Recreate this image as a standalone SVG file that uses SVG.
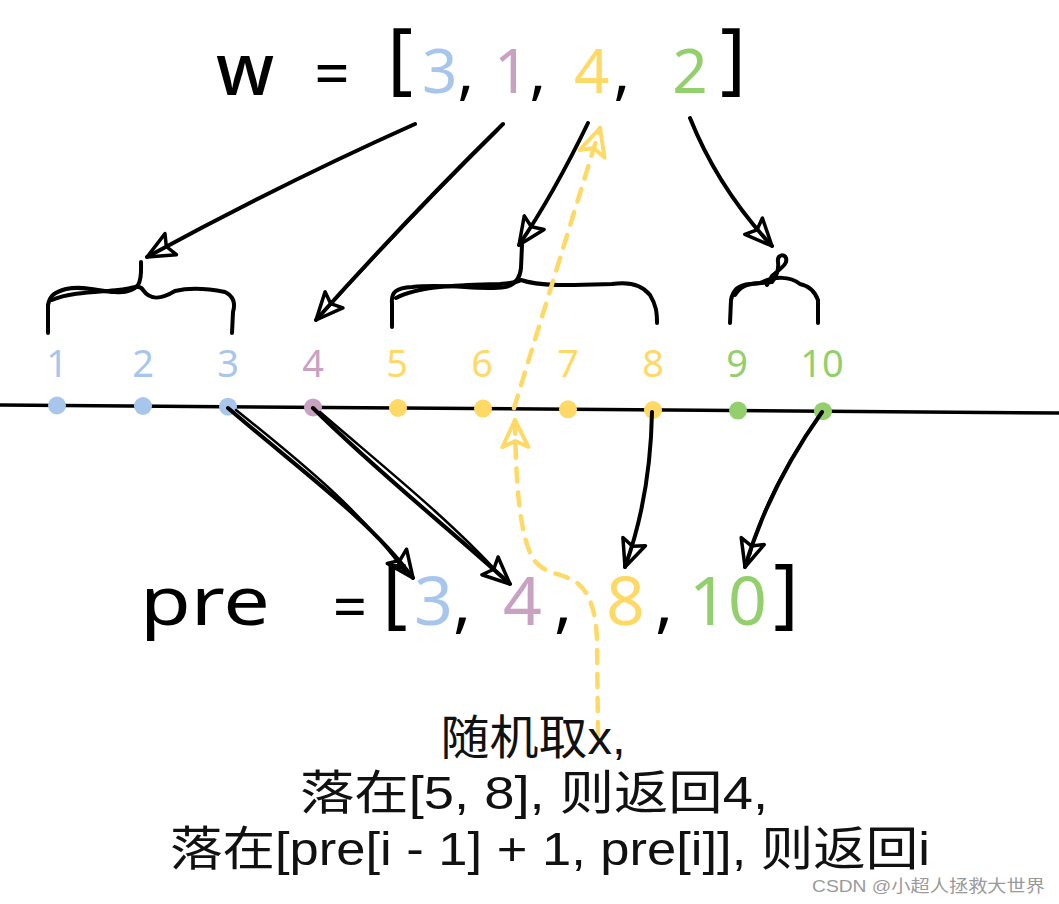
<svg xmlns="http://www.w3.org/2000/svg" width="1059" height="904" viewBox="0 0 1059 904">
<style>
.t{font-family:"Noto Sans","Noto Sans CJK SC",sans-serif}
.cn{font-family:"Liberation Sans","Noto Sans CJK SC",sans-serif;font-size:47px;fill:#111;text-anchor:middle}
.blue{fill:#a8c6ec}.pink{fill:#c9a2c2}.yel{fill:#ffd966}.grn{fill:#94cf6e}.blk{fill:#000}
.lbl{font-size:38px;text-anchor:middle}
.ink{fill:none;stroke:#000;stroke-width:4;stroke-linecap:round;stroke-linejoin:round}
.ink2{fill:none;stroke:#000;stroke-width:2.5;stroke-linecap:round}
.dash{fill:none;stroke:#ffd966;stroke-width:4.5;stroke-linecap:round;stroke-dasharray:13 11}
</style>
<defs>
<marker id="ah" markerUnits="userSpaceOnUse" markerWidth="40" markerHeight="40" viewBox="-32 -20 40 40" refX="0" refY="0" orient="auto">
<path d="M0,0 L-27,-12 L-22,0 L-27,12 Z" fill="none" stroke="#000" stroke-width="3.5" stroke-linejoin="round"/>
</marker>
<marker id="ahy" markerUnits="userSpaceOnUse" markerWidth="40" markerHeight="40" viewBox="-32 -20 40 40" refX="0" refY="0" orient="auto">
<path d="M0,0 L-27,-13 L-21,0 L-27,13 Z" fill="none" stroke="#ffd966" stroke-width="4" stroke-linejoin="round"/>
</marker>
</defs>
<rect width="1059" height="904" fill="#fff"/>

<g id="w-array" class="t">
<text x="245" y="95" font-size="72" font-weight="500" class="blk" text-anchor="middle">w</text>
<text x="332" y="96" font-size="62" class="blk" text-anchor="middle">=</text>
<text x="400" y="85" font-size="78" class="blk" text-anchor="middle">[</text>
<text x="422" y="93" font-size="62"><tspan class="blue">3</tspan><tspan class="blk">,</tspan></text>
<text x="494" y="93" font-size="62"><tspan class="pink">1</tspan><tspan class="blk">,</tspan></text>
<text x="574" y="93" font-size="62"><tspan class="yel">4</tspan><tspan class="blk" dx="4">,</tspan></text>
<text x="690" y="93" font-size="62" class="grn" text-anchor="middle">2</text>
<text x="733" y="85" font-size="78" class="blk" text-anchor="middle">]</text>
</g>

<g id="braces">
<path class="ink" d="M48,333 L48,305 C50,295 55,292 66,289 C85,285 100,292 115,292 C128,293 134,290 138,285 C142,279 141,270 141,262"/>
<path class="ink" d="M52,300 C70,292 100,292 118,290 C130,289 140,284 143,290 C150,300 160,300 175,291 C195,286 215,290 225,292 C233,296 236,302 233,312 L232,333"/>
<path class="ink" d="M392,327 L392,303 C391,292 396,288 412,287 C450,283 480,291 505,287 C515,285 520,279 521,268 L522,245"/>
<path class="ink" d="M396,298 C420,285 470,285 500,284 C512,283 518,282 521,280 C540,287 580,285 612,284 C625,282 640,282 650,295 C656,305 657,312 657,323"/>
<path class="ink" d="M730,323 L731,300 C733,290 738,285 750,284 L772,282 C776,278 779,270 778,262 C777,255 784,253 786,258 C788,264 781,268 772,276 L767,285"/>
<path class="ink" d="M735,295 C740,287 745,284 760,283 C775,276 790,276 800,284 C810,286 815,292 818,300 L818,323"/>
</g>

<g id="number-line">
<line x1="0" y1="405" x2="1059" y2="413" stroke="#000" stroke-width="3.5"/>
</g>

<g id="points" class="t">
<g id="p1"><circle cx="57" cy="405.5" r="9" class="blue"/><text x="57" y="377" class="lbl blue">1</text></g>
<g id="p2"><circle cx="143" cy="406" r="9" class="blue"/><text x="143" y="377" class="lbl blue">2</text></g>
<g id="p3"><circle cx="228" cy="406.7" r="9" class="blue"/><text x="228" y="377" class="lbl blue">3</text></g>
<g id="p4"><circle cx="313" cy="407.4" r="9" class="pink"/><text x="313" y="377" class="lbl pink">4</text></g>
<g id="p5"><circle cx="398" cy="408" r="9" class="yel"/><text x="397" y="377" class="lbl yel">5</text></g>
<g id="p6"><circle cx="483" cy="408.6" r="9" class="yel"/><text x="482" y="377" class="lbl yel">6</text></g>
<g id="p7"><circle cx="568" cy="409.3" r="9" class="yel"/><text x="568" y="377" class="lbl yel">7</text></g>
<g id="p8"><circle cx="653" cy="410" r="9" class="yel"/><text x="653" y="377" class="lbl yel">8</text></g>
<g id="p9"><circle cx="738" cy="410.6" r="9" class="grn"/><text x="737" y="377" class="lbl grn">9</text></g>
<g id="p10"><circle cx="823" cy="411.2" r="9" class="grn"/><text x="822" y="377" class="lbl grn">10</text></g>
</g>

<g id="pre-array" class="t">
<text x="140" y="625" font-size="68" class="blk" textLength="130" lengthAdjust="spacingAndGlyphs">pre</text>
<text x="350" y="628" font-size="60" class="blk" text-anchor="middle">=</text>
<text x="395" y="619" font-size="76" class="blk" text-anchor="middle">[</text>
<text x="414" y="625" font-size="68"><tspan class="blue">3</tspan><tspan class="blk">,</tspan></text>
<text x="503" y="625" font-size="68"><tspan class="pink">4</tspan><tspan class="blk" dx="12">,</tspan></text>
<text x="606" y="625" font-size="68"><tspan class="yel">8</tspan><tspan class="blk" dx="10">,</tspan></text>
<text x="728" y="625" font-size="68" class="grn" text-anchor="middle">10</text>
<text x="786" y="619" font-size="76" class="blk" text-anchor="middle">]</text>
</g>

<g id="connectors">
<path class="ink" d="M415,124 Q285,182 147,257" marker-end="url(#ah)"/>
<path class="ink" d="M503,124 Q410,215 316,320" marker-end="url(#ah)"/>
<path class="ink2" d="M498,130 Q405,222 322,314"/>
<path class="ink" d="M588,123 Q553,195 519,245" marker-end="url(#ah)"/>
<path class="ink" d="M690,118 Q718,188 772,246" marker-end="url(#ah)"/>
<path class="ink" d="M228,408 C300,470 370,520 413,578" marker-end="url(#ah)"/>
<path class="ink2" d="M236,410 C305,465 365,515 405,572"/>
<path class="ink" d="M313,408 C375,470 445,525 510,584" marker-end="url(#ah)"/>
<path class="ink2" d="M320,412 C385,468 450,520 500,575"/>
<path class="ink" d="M652,412 C651,470 642,520 625,567" marker-end="url(#ah)"/>
<path class="ink" d="M822,412 C795,450 765,500 745,567" marker-end="url(#ah)"/>
<path class="ink2" d="M818,418 C790,458 762,505 750,555"/>
<path class="dash" d="M514,408 L600,128" marker-end="url(#ahy)"/>
<path class="dash" d="M598,735 L597,640 C596,612 590,592 576,582 C560,572 540,574 531,555 C520,530 516,490 515,420" marker-end="url(#ahy)"/>
</g>

<g id="caption">
<text x="533" y="754" class="cn" textLength="185" lengthAdjust="spacingAndGlyphs">随机取x,</text>
<text x="534" y="809" class="cn" textLength="468" lengthAdjust="spacingAndGlyphs">落在[5, 8], 则返回4,</text>
<text x="550" y="865" class="cn" textLength="760" lengthAdjust="spacingAndGlyphs">落在[pre[i - 1] + 1, pre[i]], 则返回i</text>
</g>

<g id="watermark">
<text x="812" y="892" font-family="'Liberation Sans','Noto Sans CJK SC',sans-serif" font-size="17" fill="#9a9a9a" textLength="233" lengthAdjust="spacingAndGlyphs">CSDN @小超人拯救大世界</text>
</g>
</svg>
